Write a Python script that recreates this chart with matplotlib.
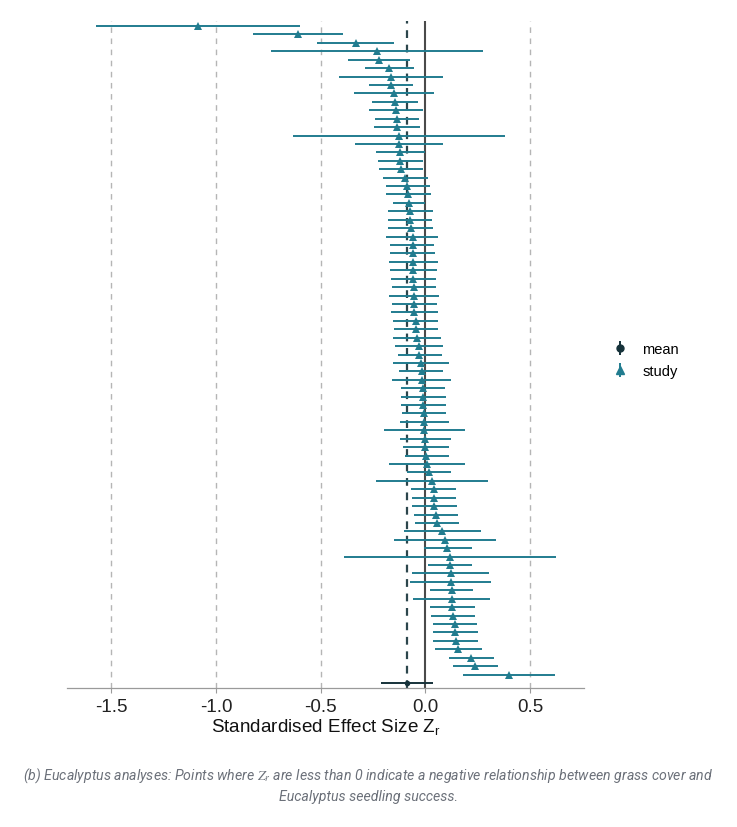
import numpy as np
import matplotlib.pyplot as plt

# Effect sizes, top row first
study_est = [-1.087, -0.610, -0.334, -0.231, -0.221, -0.173, -0.166, -0.165, -0.150, -0.147,
             -0.140, -0.137, -0.135, -0.127, -0.125, -0.120, -0.120, -0.117, -0.096, -0.086,
             -0.085, -0.077, -0.072, -0.072, -0.067, -0.062, -0.062, -0.062, -0.058, -0.058,
             -0.058, -0.056, -0.056, -0.054, -0.053, -0.046, -0.043, -0.040, -0.030, -0.029,
             -0.021, -0.019, -0.019, -0.013, -0.011, -0.010, -0.008, -0.006, -0.005, -0.003,
             0.000, 0.003, 0.006, 0.018, 0.029, 0.040, 0.042, 0.043, 0.050, 0.053,
             0.080, 0.093, 0.105, 0.115, 0.117, 0.120, 0.121, 0.125, 0.126, 0.129,
             0.131, 0.139, 0.142, 0.144, 0.157, 0.219, 0.238, 0.398]
study_lo = [-1.575, -0.824, -0.517, -0.736, -0.371, -0.290, -0.415, -0.269, -0.341, -0.255,
            -0.270, -0.242, -0.244, -0.631, -0.336, -0.237, -0.226, -0.221, -0.203, -0.187,
            -0.187, -0.155, -0.181, -0.177, -0.177, -0.187, -0.168, -0.169, -0.176, -0.169,
            -0.163, -0.161, -0.176, -0.161, -0.165, -0.153, -0.150, -0.153, -0.145, -0.133,
            -0.153, -0.125, -0.158, -0.117, -0.118, -0.115, -0.112, -0.123, -0.196, -0.123,
            -0.107, -0.096, -0.176, -0.088, -0.235, -0.067, -0.065, -0.064, -0.054, -0.051,
            -0.105, -0.152, -0.006, -0.390, 0.011, -0.065, -0.072, 0.021, -0.059, 0.022,
            0.024, 0.034, 0.037, 0.038, 0.046, 0.112, 0.133, 0.177]
study_hi = [-0.598, -0.392, -0.150, 0.273, -0.072, -0.054, 0.082, -0.059, 0.041, -0.036,
            -0.012, -0.031, -0.026, 0.379, 0.086, -0.003, -0.013, -0.012, 0.014, 0.021,
            0.026, 0.000, 0.037, 0.032, 0.038, 0.061, 0.042, 0.045, 0.061, 0.056,
            0.050, 0.050, 0.065, 0.053, 0.059, 0.061, 0.061, 0.073, 0.086, 0.077,
            0.110, 0.086, 0.120, 0.093, 0.097, 0.097, 0.099, 0.113, 0.189, 0.120,
            0.113, 0.110, 0.189, 0.123, 0.299, 0.145, 0.147, 0.149, 0.153, 0.158,
            0.264, 0.337, 0.220, 0.621, 0.220, 0.305, 0.313, 0.225, 0.310, 0.236,
            0.236, 0.246, 0.249, 0.249, 0.268, 0.327, 0.347, 0.618]
mean_est = -0.089
mean_lo = -0.212
mean_hi = 0.035

x_ticks = [-1.5, -1.0, -0.5, 0.0, 0.5]
x_ticklabels = ["-1.5", "-1.0", "-0.5", "0.0", "0.5"]
grid_lines = [-1.5, -1.0, -0.5, 0.5]

caption_1 = ("(b) Eucalyptus analyses: Points where $Z_r$ are less than 0 indicate a "
             "negative relationship between grass cover and")
caption_2 = "Eucalyptus seedling success."

study_col = "#217c8f"
mean_col = "#16323a"

plt.rcParams['font.family'] = ['Liberation Sans', 'DejaVu Sans']

fig = plt.figure(figsize=(7.37, 8.28), dpi=100)
ax = fig.add_axes([67 / 737, 1 - 689 / 828, (584 - 67) / 737, (689 - 22) / 828])

n = len(study_est)
y_study = np.arange(n + 1, 1, -1)  # top study at n+1, bottom at 2
est = np.array(study_est)
lo = np.array(study_lo)
hi = np.array(study_hi)

# reference lines
for g in grid_lines:
    ax.axvline(g, color="#b5b5b5", lw=1.0, ls=(0, (4, 4)), zorder=1)
ax.axvline(0, color="#4a4a4a", lw=1.5, zorder=2)
ax.axvline(mean_est, color="#2c464c", lw=1.6, ls=(0, (3.5, 3)), zorder=2)

# studies
ax.errorbar(est, y_study, xerr=[est - lo, hi - est], fmt="^", color=study_col,
            ecolor=study_col, elinewidth=1.4, capsize=0, markersize=5.5,
            markeredgewidth=0, zorder=3)
# mean
ax.errorbar([mean_est], [1], xerr=[[mean_est - mean_lo], [mean_hi - mean_est]], fmt="o",
            color=mean_col, ecolor=mean_col, elinewidth=1.4, capsize=0, markersize=4,
            markeredgewidth=0, zorder=3)

ax.set_xlim(-1.712, 0.757)
ax.set_ylim(0.4, n + 1.6)
ax.set_yticks([])
for s in ["top", "right", "left"]:
    ax.spines[s].set_visible(False)
ax.spines["bottom"].set_color("#9a9a9a")
ax.spines["bottom"].set_linewidth(0.9)
ax.set_xticks(x_ticks)
ax.set_xticklabels(x_ticklabels)
ax.tick_params(axis="x", length=3.5, width=0.8, color="#9a9a9a", labelsize=13.5,
               labelcolor="#222222", pad=4)
ax.set_xlabel("Standardised Effect Size Z$_\\mathregular{r}$", fontsize=13.6,
              color="#111111", labelpad=1)

# legend with vertical bars like the ggplot keys
h_mean = ax.errorbar([np.nan], [np.nan], yerr=[1], fmt="o", color=mean_col, ecolor=mean_col,
                     markersize=5, elinewidth=1.4, capsize=0)
h_study = ax.errorbar([np.nan], [np.nan], yerr=[1], fmt="^", color=study_col,
                      ecolor=study_col, markersize=6, elinewidth=1.4, capsize=0)
leg = fig.legend([h_mean, h_study], ["mean", "study"], loc="center left",
                 bbox_to_anchor=(600 / 737, 1 - 361 / 828), frameon=False, fontsize=10.5,
                 handlelength=1.0, handletextpad=1.0, labelspacing=0.55)

# caption
fig.text(0.5, 1 - 776 / 828, caption_1, ha="center", va="center", fontsize=10.2,
         family=["Roboto", "DejaVu Sans"], style="italic", color="#6b7079",
         math_fontfamily="stix")
fig.text(0.5, 1 - 797 / 828, caption_2, ha="center", va="center", fontsize=10.2,
         family=["Roboto", "DejaVu Sans"], style="italic", color="#6b7079")

fig.savefig("out.png", dpi=100)
